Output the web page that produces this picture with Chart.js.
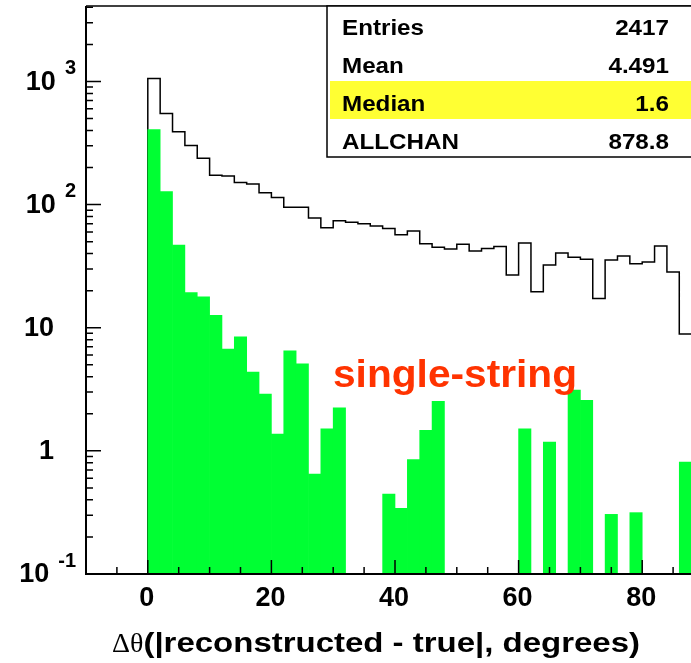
<!DOCTYPE html>
<html>
<head>
<meta charset="utf-8">
<script src="https://cdn.jsdelivr.net/npm/chart.js@4.4.1/dist/chart.umd.min.js"></script>
<style>
  html, body { margin: 0; padding: 0; background: #fff; overflow: hidden; }
  #marco { width: 691px; height: 663px; overflow: hidden; }
</style>
</head>
<body>
<div id="marco"><canvas id="histo" width="720" height="663"></canvas></div>
<script>
// bins de 2 grados (borde inferior de cada bin)
const binLow = [0, 2, 4, 6, 8, 10, 12, 14, 16, 18, 20, 22, 24, 26, 28, 30, 32, 34, 36, 38, 40, 42, 44,
  46, 48, 50, 52, 54, 56, 58, 60, 62, 64, 66, 68, 70, 72, 74, 76, 78, 80, 82, 84, 86, 88];
const binWidth = 2;

// histograma ALLCHAN (linea negra)
const allChan = [1058, 550, 390, 302, 238, 173, 171, 151, 147, 125, 114, 95, 95, 78, 65, 74, 72, 70, 67,
  64, 57, 61, 48, 45, 43.6, 47.6, 42, 43.9, 45.6, 26.8, 48.8, 19.6, 32.3, 40.5, 37.4, 36, 17.3, 35.5,
  38.3, 33.1, 34.2, 46.2, 28.4, 8.9, null];

// single-string (relleno verde)
const singleString = [407, 127.6, 47, 19.3, 17.8, 12.6, 6.7, 8.45, 4.36, 2.89, 1.37, 6.5, 5.1, 0.647,
  1.51, 2.24, null, null, null, 0.445, 0.342, 0.851, 1.47, 2.52, null, null, null, null, null, null,
  1.51, null, 1.18, null, 3.11, 2.57, null, 0.305, null, 0.315, null, null, null, 0.81, null];

const xTicks = [0, 20, 40, 60, 80];
const xTickLabels = ['0', '20', '40', '60', '80'];
const yTicks = [0.1, 1, 10, 100, 1000];
const yTickBase = ['10', '1', '10', '10', '10'];
const yTickExp = ['-1', '', '', '2', '3'];

const statNames = ['Entries', 'Mean', 'Median', 'ALLCHAN'];
const statValues = ['2417', '4.491', '1.6', '878.8'];

const xMin = -10, xMax = 90, yMin = 0.1, yMax = 4100;

const SANS = '"Liberation Sans", Arial, Helvetica, sans-serif';
const SERIF = '"Liberation Serif", "Times New Roman", serif';

// puntos de la linea escalonada a partir de los bins
function escalon() {
  const pts = [{ x: binLow[0], y: yMin }];
  binLow.forEach((lo, i) => {
    const v = allChan[i];
    if (v == null) return;
    pts.push({ x: lo, y: v });
    pts.push({ x: lo + binWidth, y: v });
  });
  return pts;
}

const barras = binLow.map((lo, i) => ({ x: lo + binWidth / 2, y: singleString[i] }));

function texto(ctx, txt, x, y, sx, align) {
  ctx.save();
  ctx.translate(x, y);
  ctx.scale(sx, 1);
  ctx.textAlign = align;
  ctx.fillText(txt, 0, 0);
  ctx.restore();
}

// ejes, marcas, etiquetas y caja de estadisticas al estilo ROOT
const estiloRoot = {
  id: 'estiloRoot',
  afterDatasetsDraw(chart) {
    const ctx = chart.ctx;
    const a = chart.chartArea;
    const xs = chart.scales.x;
    const ys = chart.scales.y;
    ctx.save();

    // marco
    ctx.strokeStyle = '#000';
    ctx.lineWidth = 1.5;
    ctx.beginPath();
    ctx.moveTo(a.left, a.top);
    ctx.lineTo(a.right, a.top);
    ctx.stroke();
    ctx.lineWidth = 2;
    ctx.beginPath();
    ctx.moveTo(a.left, a.top);
    ctx.lineTo(a.left, a.bottom);
    ctx.lineTo(a.right, a.bottom);
    ctx.stroke();

    // marcas eje x
    ctx.lineWidth = 1.5;
    ctx.beginPath();
    for (let v = xMin; v <= xMax; v += 5) {
      const px = xs.getPixelForValue(v);
      const len = v % 20 === 0 ? 14 : 7;
      ctx.moveTo(px, a.bottom);
      ctx.lineTo(px, a.bottom - len);
    }
    ctx.stroke();

    // marcas eje y (log)
    ctx.beginPath();
    for (let d = 0.1; d <= yMax; d *= 10) {
      for (let k = 1; k <= 9; k++) {
        const v = d * k;
        if (v < yMin * 0.999 || v > yMax) continue;
        const py = ys.getPixelForValue(v);
        const len = k === 1 ? 15 : 7;
        ctx.moveTo(a.left, py);
        ctx.lineTo(a.left + len, py);
      }
    }
    ctx.stroke();

    // etiquetas eje x
    ctx.fillStyle = '#000';
    ctx.textBaseline = 'alphabetic';
    ctx.font = 'bold 27px ' + SANS;
    xTicks.forEach((v, i) => {
      texto(ctx, xTickLabels[i], xs.getPixelForValue(v) - 1, 606, 1, 'center');
    });

    // etiquetas eje y
    ctx.textBaseline = 'middle';
    yTicks.forEach((v, i) => {
      const py = ys.getPixelForValue(v);
      if (yTickExp[i]) {
        ctx.font = 'bold 20px ' + SANS;
        const w = ctx.measureText(yTickExp[i]).width;
        texto(ctx, yTickExp[i], 76, py - 13, 1, 'right');
        ctx.font = 'bold 27px ' + SANS;
        texto(ctx, yTickBase[i], 76 - w - 9, py + 1, 1, 'right');
      } else {
        ctx.font = 'bold 27px ' + SANS;
        texto(ctx, yTickBase[i], 54, py + 1, 1, 'right');
      }
    });

    // titulo eje x
    ctx.textBaseline = 'alphabetic';
    ctx.font = '28px ' + SERIF;
    const griego = '\u0394\u03b8';
    const wg = ctx.measureText(griego).width;
    texto(ctx, griego, 112, 652, 1, 'left');
    ctx.font = 'bold 27px ' + SANS;
    const resto = '(|reconstructed - true|, degrees)';
    const wr = ctx.measureText(resto).width;
    const sx = (640 - 112 - wg) / wr;
    texto(ctx, resto, 112 + wg, 652, sx, 'left');

    // texto single-string
    ctx.fillStyle = '#ff3300';
    ctx.font = 'bold 38px ' + SANS;
    texto(ctx, 'single-string', 333, 387, 1.07, 'left');

    // caja de estadisticas
    const bx = 327, by = a.top, bw = a.right - 327, bh = 151;
    ctx.fillStyle = '#fff';
    ctx.fillRect(bx, by, bw, bh);
    ctx.fillStyle = '#ffff33';
    ctx.fillRect(330, 81, bw, 38);
    ctx.strokeStyle = '#000';
    ctx.lineWidth = 1.5;
    ctx.strokeRect(bx, by, bw, bh);
    ctx.fillStyle = '#000';
    ctx.font = 'bold 22px ' + SANS;
    const filas = [35, 73, 111, 149];
    statNames.forEach((n, i) => {
      texto(ctx, n, 342, filas[i], 1.1, 'left');
      texto(ctx, statValues[i], 669, filas[i], 1.1, 'right');
    });

    ctx.restore();
  }
};

const ctx = document.getElementById('histo').getContext('2d');
new Chart(ctx, {
  type: 'bar',
  data: {
    datasets: [
      {
        type: 'bar',
        data: barras,
        backgroundColor: '#00ff33',
        borderWidth: 0,
        barPercentage: 1,
        categoryPercentage: 1,
        order: 0
      },
      {
        type: 'line',
        data: escalon(),
        borderColor: '#000',
        borderWidth: 1.5,
        pointRadius: 0,
        fill: false,
        tension: 0,
        order: 1
      }
    ]
  },
  options: {
    responsive: false,
    animation: false,
    devicePixelRatio: 1,
    layout: { padding: { left: 86, right: 16, top: 6, bottom: 89 } },
    plugins: { legend: { display: false }, tooltip: { enabled: false } },
    scales: {
      x: { type: 'linear', min: xMin, max: xMax, offset: false, display: false },
      y: { type: 'logarithmic', min: yMin, max: yMax, display: false }
    }
  },
  plugins: [estiloRoot]
});
</script>
</body>
</html>
